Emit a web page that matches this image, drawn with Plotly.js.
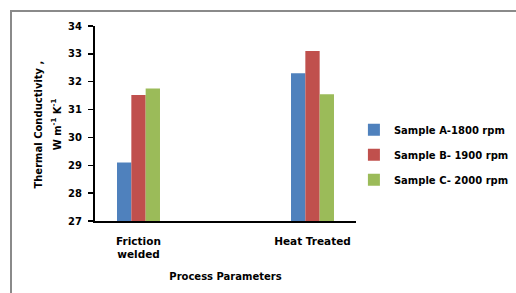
<!DOCTYPE html>
<html>
<head>
<meta charset="utf-8">
<script src="https://cdn.plot.ly/plotly-3.0.1.min.js"></script>
<style>
  html, body { margin: 0; padding: 0; background: #fff; }
  #wrap { position: relative; width: 516px; height: 293px; overflow: hidden; }
  #chart { width: 516px; height: 293px; }
  #frame { position: absolute; left: 10px; top: 10px; width: 600px; height: 400px;
           border-top: 2px solid #8a8a8a; border-left: 2px solid #8a8a8a; pointer-events: none; }
</style>
</head>
<body>
<div id="wrap">
  <div id="chart"></div>
  <div id="frame"></div>
</div>
<script>
const categories = [0, 1];
const categoryLabels = ["Friction<br>welded", "Heat Treated"];
const seriesNames = ["Sample A-1800 rpm", "Sample B- 1900 rpm", "Sample C- 2000 rpm"];
const sampleA = [29.1, 32.3];
const sampleB = [31.52, 33.1];
const sampleC = [31.76, 31.55];
const yTicks = [27, 28, 29, 30, 31, 32, 33, 34];
const yTitleLine1 = "Thermal Conductivity ,";
const yTitleLine2 = "W m<sup>-1</sup> K<sup>-1</sup>";
const xTitle = "Process Parameters";

const colors = ["#4F81BD", "#C0504D", "#9BBB59"];
const font = "DejaVu Sans, Arial, sans-serif";
const allSeries = [sampleA, sampleB, sampleC];

const traces = allSeries.map((vals, i) => ({
  type: "bar",
  x: categories,
  y: vals.map(v => v - 27),
  base: 27,
  name: seriesNames[i],
  legendgroup: "g" + i,
  marker: { color: colors[i], line: { width: 0 } },
  hoverinfo: "skip"
}));

const layout = {
  width: 516, height: 293,
  margin: { l: 95, r: 160, t: 26, b: 72, autoexpand: false },
  paper_bgcolor: "#fff", plot_bgcolor: "#fff",
  barmode: "group", bargap: 0.753, bargroupgap: 0,
  font: { family: font, size: 10, color: "#000" },
  xaxis: {
    range: [-0.25, 1.25],
    tickvals: categories, ticktext: categoryLabels,
    showgrid: false, zeroline: false,
    showline: true, linecolor: "#000", linewidth: 2,
    ticks: "", ticklabelstandoff: 9, automargin: false,
    tickfont: { family: font, size: 10.5, weight: "bold", color: "#000" },
    title: { text: "<b>" + xTitle + "</b>", font: { family: font, size: 10, color: "#000" }, standoff: 14 },
    fixedrange: true
  },
  yaxis: {
    range: [27, 34],
    tickvals: yTicks,
    showgrid: false, zeroline: false,
    showline: true, linecolor: "#000", linewidth: 2,
    ticks: "outside", ticklen: 5, tickwidth: 1.5, tickcolor: "#000",
    ticklabelstandoff: 4, automargin: false,
    tickfont: { family: font, size: 10, weight: "bold", color: "#000" },
    fixedrange: true
  },
  showlegend: true,
  legend: {
    x: 0.992, xanchor: "left", y: 0.34, yanchor: "middle",
    font: { family: font, size: 10, weight: "bold", color: "#000" },
    tracegroupgap: 6, bgcolor: "rgba(0,0,0,0)"
  },
  annotations: [
    { text: "<b>" + yTitleLine1 + "</b>", xref: "paper", yref: "paper", x: -0.218, y: 0.495,
      xanchor: "center", yanchor: "middle", textangle: -90, showarrow: false,
      font: { family: font, size: 10, color: "#000" } },
    { text: "<b>" + yTitleLine2 + "</b>", xref: "paper", yref: "paper", x: -0.146, y: 0.495,
      xanchor: "center", yanchor: "middle", textangle: -90, showarrow: false,
      font: { family: font, size: 10, color: "#000" } }
  ]
};

Plotly.newPlot("chart", traces, layout, { displayModeBar: false, staticPlot: true });
</script>
</body>
</html>
